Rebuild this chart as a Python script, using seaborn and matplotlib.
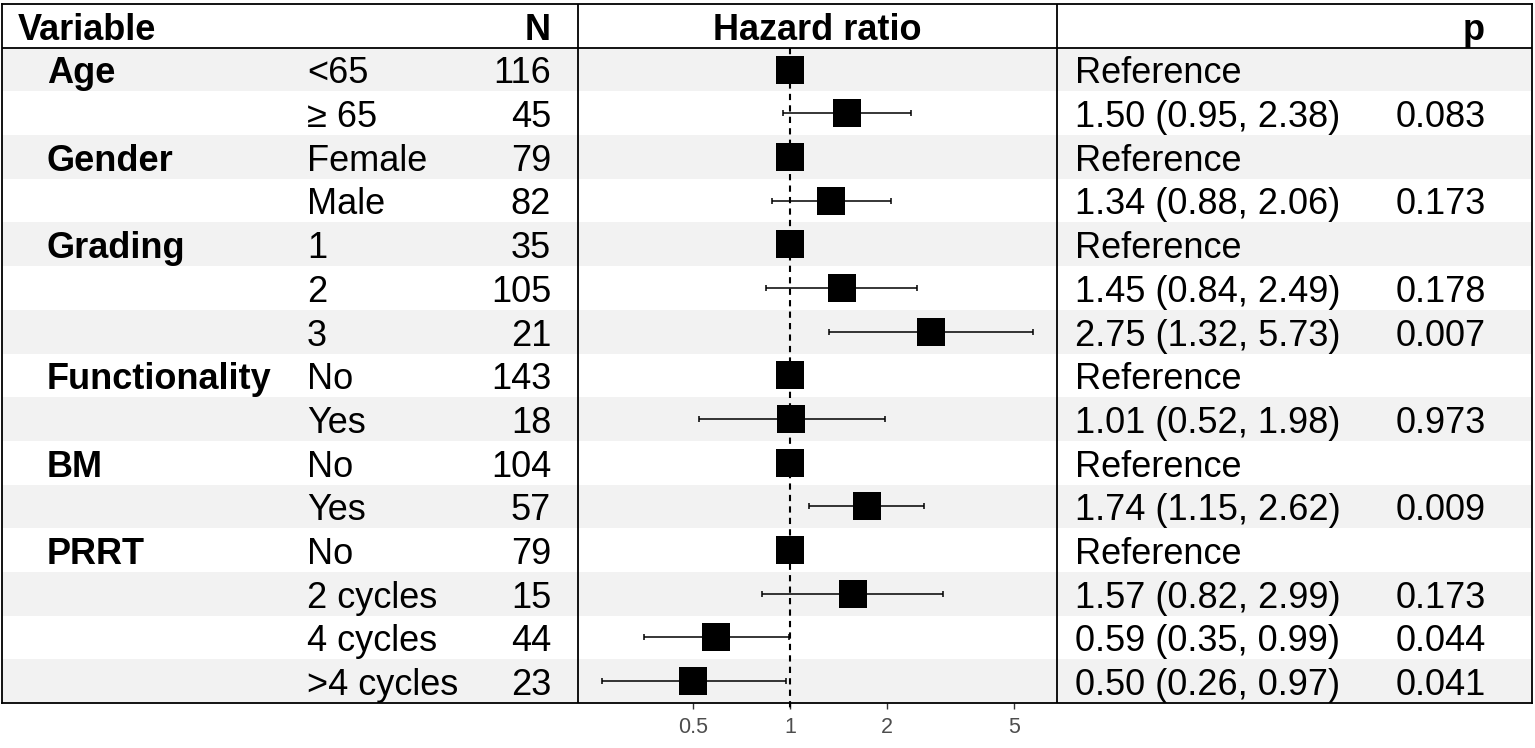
import numpy as np
import pandas as pd
import seaborn as sns
import matplotlib.pyplot as plt
from matplotlib.ticker import NullLocator

# table content, one entry per row (top to bottom)
variables = ['Age', '', 'Gender', '', 'Grading', '', '', 'Functionality', '', 'BM', '', 'PRRT', '', '', '']
levels = ['<65', '≥ 65', 'Female', 'Male', '1', '2', '3', 'No', 'Yes', 'No', 'Yes', 'No',
          '2 cycles', '4 cycles', '>4 cycles']
n_obs = [116, 45, 79, 82, 35, 105, 21, 143, 18, 104, 57, 79, 15, 44, 23]
hr = [1, 1.50, 1, 1.34, 1, 1.45, 2.75, 1, 1.01, 1, 1.74, 1, 1.57, 0.59, 0.50]
ci_low = [np.nan, 0.95, np.nan, 0.88, np.nan, 0.84, 1.32, np.nan, 0.52, np.nan, 1.15, np.nan, 0.82, 0.35, 0.26]
ci_high = [np.nan, 2.38, np.nan, 2.06, np.nan, 2.49, 5.73, np.nan, 1.98, np.nan, 2.62, np.nan, 2.99, 0.99, 0.97]
p_values = ['', '0.083', '', '0.173', '', '0.178', '0.007', '', '0.973', '', '0.009', '', '0.173', '0.044', '0.041']
x_ticks = [0.5, 1, 2, 5]
tick_labels = ['0.5', '1', '2', '5']

df = pd.DataFrame({'variable': variables, 'level': levels, 'N': n_obs, 'hr': hr,
                   'lower': ci_low, 'upper': ci_high, 'p': p_values})
df['row'] = np.arange(len(df))

sns.set_theme(style='white')
plt.rcParams['font.family'] = ['Liberation Sans', 'DejaVu Sans']
plt.rcParams['text.color'] = 'black'

W, H = 1535, 748
fig = plt.figure(figsize=(W / 100, H / 100), dpi=100)
ax = fig.add_axes([2 / W, 45 / H, 1530 / W, 699 / H])
ax.set_xscale('log')


# pixel position -> value on the log axis (1 sits at px 790, 321 px per decade)
def px2x(px):
    return 10 ** ((px - 790) / 321)


ax.set_xlim(px2x(2), px2x(1532))
ax.set_ylim(len(df) - 0.5, -1.5)

# zebra shading
for i in range(0, len(df), 2):
    ax.axhspan(i - 0.5, i + 0.5, color='#f2f2f2', zorder=0, lw=0)

# table grid
ax.axhline(-0.5, color='black', lw=1.3)
for px in [578, 1057]:
    ax.axvline(px2x(px), color='black', lw=1.3)
ax.plot([1, 1], [-0.5, len(df) - 0.3], color='black', lw=1.5, ls=(0, (3, 2.5)), clip_on=False, zorder=2)

# confidence intervals and points
df_ci = df.dropna(subset=['lower'])
ax.errorbar(df_ci['hr'], df_ci['row'], xerr=[df_ci['hr'] - df_ci['lower'], df_ci['upper'] - df_ci['hr']],
            fmt='none', ecolor='black', elinewidth=1.1, capsize=2.5, capthick=1.1, zorder=3)
sns.scatterplot(data=df, x='hr', y='row', marker='s', s=390, color='black', linewidth=0,
                legend=False, ax=ax, zorder=4)

# text columns (nudged down a little to sit like the original)
fs = 26
dy = 0.1
ax.text(px2x(18), -1 + dy, 'Variable', fontsize=fs, fontweight='bold', ha='left', va='center')
ax.text(px2x(551), -1 + dy, 'N', fontsize=fs, fontweight='bold', ha='right', va='center')
ax.text(px2x(817), -1 + dy, 'Hazard ratio', fontsize=fs, fontweight='bold', ha='center', va='center')
ax.text(px2x(1485), -1 + dy, 'p', fontsize=fs, fontweight='bold', ha='right', va='center')

for _, r in df.iterrows():
    y = r['row'] + dy
    ax.text(px2x(47), y, r['variable'], fontsize=fs, fontweight='bold', ha='left', va='center')
    ax.text(px2x(307), y, r['level'], fontsize=fs, ha='left', va='center')
    ax.text(px2x(551), y, str(r['N']), fontsize=fs, ha='right', va='center')
    if np.isnan(r['lower']):
        est = 'Reference'
    else:
        est = f"{r['hr']:.2f} ({r['lower']:.2f}, {r['upper']:.2f})"
    ax.text(px2x(1075), y, est, fontsize=fs, ha='left', va='center')
    ax.text(px2x(1486), y, r['p'], fontsize=fs, ha='right', va='center')

# axes styling
ax.set_xlabel('')
ax.set_ylabel('')
ax.set_yticks([])
ax.set_xticks(x_ticks)
ax.set_xticklabels(tick_labels)
ax.xaxis.set_minor_locator(NullLocator())
ax.tick_params(axis='x', bottom=True, length=4, width=1, color='#333333',
               labelsize=15.5, labelcolor='#4D4D4D', pad=6)
for s in ax.spines.values():
    s.set_visible(True)
    s.set_color('black')
    s.set_linewidth(1.3)

fig.savefig('out.png', dpi=100)
